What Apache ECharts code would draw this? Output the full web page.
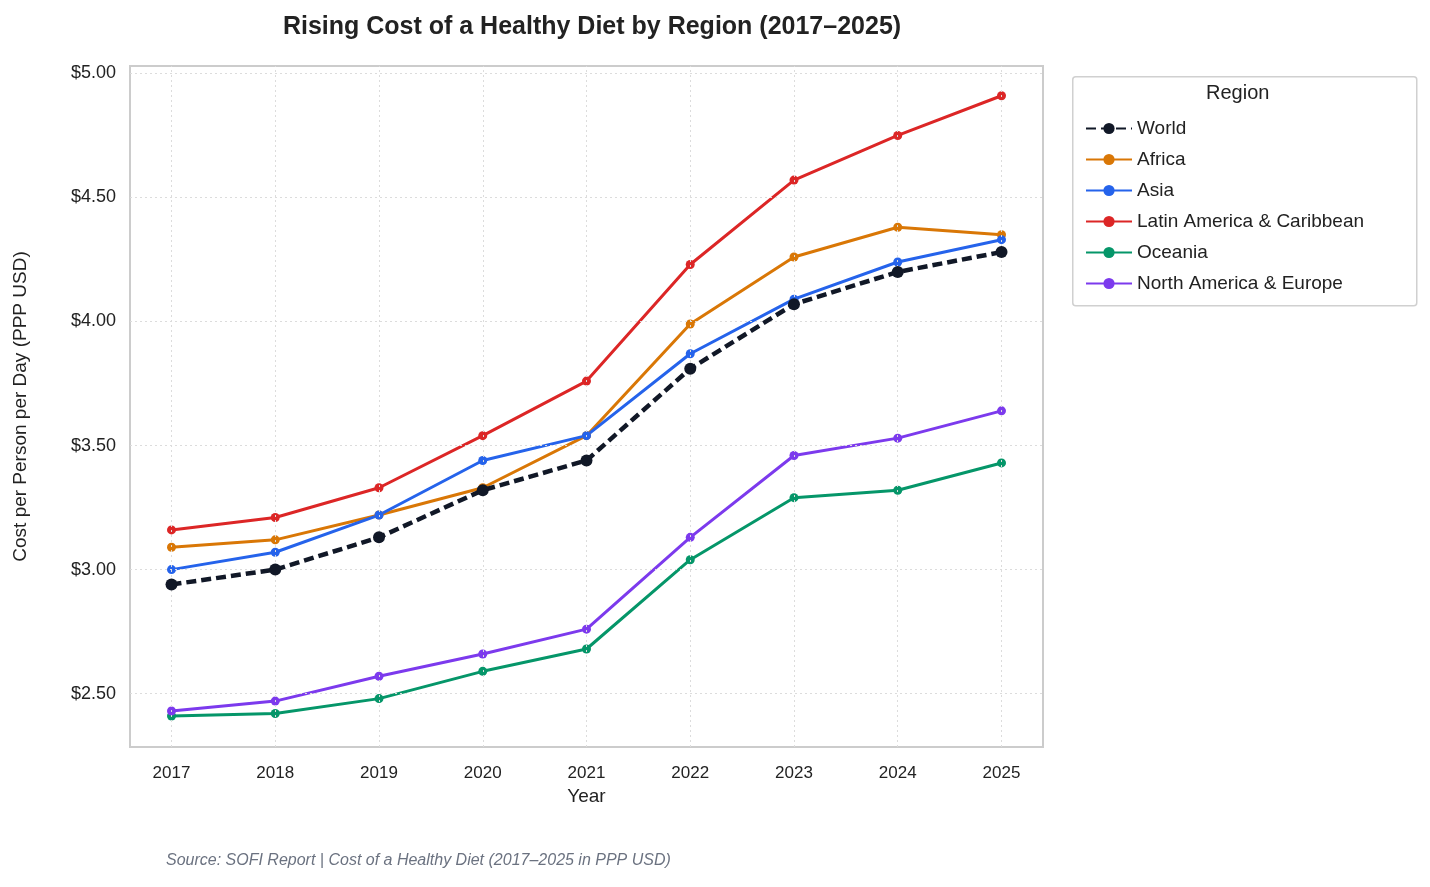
<!DOCTYPE html><html><head><meta charset="utf-8"><script src="https://cdn.jsdelivr.net/npm/echarts@6/dist/echarts.min.js"></script>
<style>body{margin:0}#c{width:1430px;height:887px}</style></head><body><div id="c"></div><script>
const years=[2017,2018,2019,2020,2021,2022,2023,2024,2025];
const yTicks=[2.5,3.0,3.5,4.0,4.5,5.0];
const world=[2.94,3.00,3.13,3.32,3.44,3.81,4.07,4.20,4.28];
const africa=[3.09,3.12,3.22,3.33,3.54,3.99,4.26,4.38,4.35];
const asia=[3.00,3.07,3.22,3.44,3.54,3.87,4.09,4.24,4.33];
const latam=[3.16,3.21,3.33,3.54,3.76,4.23,4.57,4.75,4.91];
const oceania=[2.41,2.42,2.48,2.59,2.68,3.04,3.29,3.32,3.43];
const nae=[2.43,2.47,2.57,2.66,2.76,3.13,3.46,3.53,3.64];
const defs=[['World',world,'#111827'],['Africa',africa,'#d97706'],['Asia',asia,'#2563eb'],['Latin America & Caribbean',latam,'#dc2626'],['Oceania',oceania,'#059669'],['North America & Europe',nae,'#7c3aed']];
const F='"Liberation Sans", Arial, sans-serif';
const grid='#dcdcdc';
const series=defs.map((d,i)=>({name:d[0],type:'line',data:years.map((y,j)=>[y,d[1][j]]),
 color:d[2],symbol:'circle',symbolSize:i==0?12:9,z:i==0?10:3,
 lineStyle:{width:i==0?4.5:3,type:i==0?[10,5]:'solid',color:d[2]},itemStyle:{color:d[2]}}));
series.push({type:'line',data:[],silent:true,markLine:{silent:true,symbol:'none',label:{show:false},
 lineStyle:{color:grid,type:[2,3],width:1},
 data:[...years.map(y=>({xAxis:y})),...yTicks.map(v=>({yAxis:v}))]}});
const ch=echarts.init(document.getElementById('c'));
ch.setOption({animation:false,backgroundColor:'#fff',
title:{text:'Rising Cost of a Healthy Diet by Region (2017–2025)',left:587,top:10,textAlign:'center',textStyle:{fontFamily:F,fontSize:25,fontWeight:'bold',color:'#222'}},
grid:{left:130,top:66,width:913,height:681,show:true,borderColor:'#cccccc',borderWidth:2},
xAxis:{type:'value',min:2016.6,max:2025.4,name:'Year',nameLocation:'middle',nameGap:40,nameTextStyle:{fontFamily:F,fontSize:19,color:'#222'},
 axisLine:{show:false},axisTick:{show:false},splitLine:{show:false},
 axisLabel:{customValues:years,fontFamily:F,fontSize:17,color:'#222',margin:18,formatter:v=>String(v)}},
yAxis:{type:'value',min:2.285,max:5.03,name:'Cost per Person per Day (PPP USD)',nameLocation:'middle',nameGap:100,nameTextStyle:{fontFamily:F,fontSize:19,color:'#222'},
 axisLine:{show:false},axisTick:{show:false},splitLine:{show:false},
 axisLabel:{customValues:yTicks,fontFamily:F,fontSize:18,color:'#222',margin:14,formatter:v=>'$'+v.toFixed(2)}},
legend:{orient:'vertical',left:1080,top:114,itemGap:12,itemWidth:46,itemHeight:14,
 data:defs.map(d=>d[0]),textStyle:{fontFamily:F,fontSize:19,color:'#222'}},
graphic:[{type:'rect',left:1072,top:76,shape:{width:344,height:229,r:3},style:{fill:'#fff',stroke:'#d0d0d0',lineWidth:1.5},z:-1},
 {type:'text',left:1206,top:83,style:{text:'Region',font:'20px '+F,fill:'#222'}},
 {type:'text',left:166,top:853,style:{text:'Source: SOFI Report | Cost of a Healthy Diet (2017–2025 in PPP USD)',font:'italic 16px '+F,fill:'#6b7280'}}],
series});
</script></body></html>
